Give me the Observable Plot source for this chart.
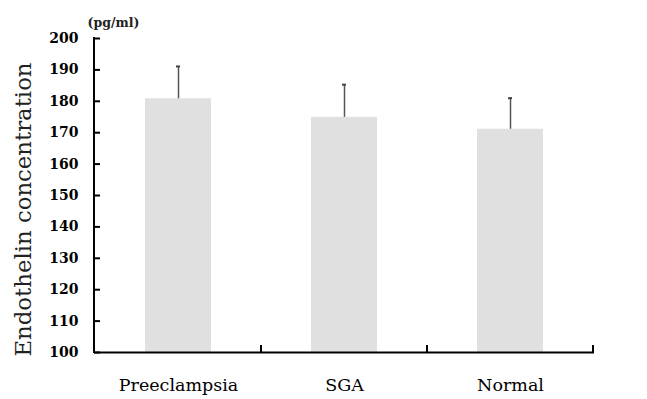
<!DOCTYPE html>
<html><head><meta charset="utf-8">
<script src="https://cdn.jsdelivr.net/npm/d3@7"></script>
<script src="https://cdn.jsdelivr.net/npm/@observablehq/plot@0.6"></script>
<style>body{margin:0;background:#fff;} #chart{width:647px;height:399px;}</style>
</head><body><div id="chart"></div>
<script>
const groups = ["Preeclampsia", "SGA", "Normal"];
const means = [180.8, 174.9, 171.1];
const upper = [191.1, 185.3, 181.0];
const yTicks = [100, 110, 120, 130, 140, 150, 160, 170, 180, 190, 200];
const yTitle = "Endothelin concentration";
const unitLabel = "(pg/ml)";

const data = groups.map((g, i) => ({group: g, mean: means[i], hi: upper[i]}));

const plot = Plot.plot({
  width: 647, height: 399,
  marginTop: 38, marginBottom: 47, marginLeft: 94, marginRight: 53,
  style: {fontFamily: "DejaVu Serif", background: "#fff", color: "#000", overflow: "visible"},
  x: {domain: groups, paddingInner: 0.6, paddingOuter: 0.3},
  y: {domain: [100, 200]},
  marks: [
    Plot.barY(data, {x: "group", y1: 100, y2: "mean", fill: "#e0e0e0"}),
    Plot.ruleX(data, {x: "group", y1: "mean", y2: "hi", stroke: "#555", strokeWidth: 1.5}),
    Plot.tickY(data, {x: "group", y: "hi", stroke: "#444", strokeWidth: 2, insetLeft: 31, insetRight: 31}),
    Plot.axisY({ticks: yTicks, tickFormat: d => String(d), tickSize: -6, tickPadding: 22, fontSize: 14, fontWeight: "bold", label: null, stroke: "#000", strokeWidth: 2}),
    Plot.axisX({tickSize: 0, tickPadding: 26, fontSize: 17.5, label: null}),
    Plot.ruleY([100], {stroke: "#000", strokeWidth: 2}),
    Plot.text([yTitle], {frameAnchor: "left", textAnchor: "middle", rotate: -90, dx: -71, dy: 14, fontSize: 22.8, fill: "#222"}),
    Plot.text([unitLabel], {frameAnchor: "top-left", dx: -7, dy: -20, fontSize: 12.5, fontWeight: "bold", fill: "#222"})
  ]
});

const xs = plot.scale("x"), ys = plot.scale("y");
const svg = d3.select(plot);
const yBottom = ys.apply(100), yTop = ys.apply(200);
svg.append("line")
  .attr("x1", xs.range[0]).attr("x2", xs.range[0])
  .attr("y1", yTop - 1).attr("y2", yBottom + 1)
  .attr("stroke", "#000").attr("stroke-width", 2);
groups.forEach(g => {
  const bx = xs.apply(g) + xs.bandwidth + (xs.step - xs.bandwidth) / 2;
  svg.append("line")
    .attr("x1", bx).attr("x2", bx)
    .attr("y1", yBottom).attr("y2", yBottom - 7)
    .attr("stroke", "#000").attr("stroke-width", 2);
});
document.getElementById("chart").appendChild(plot);
</script>
</body></html>
